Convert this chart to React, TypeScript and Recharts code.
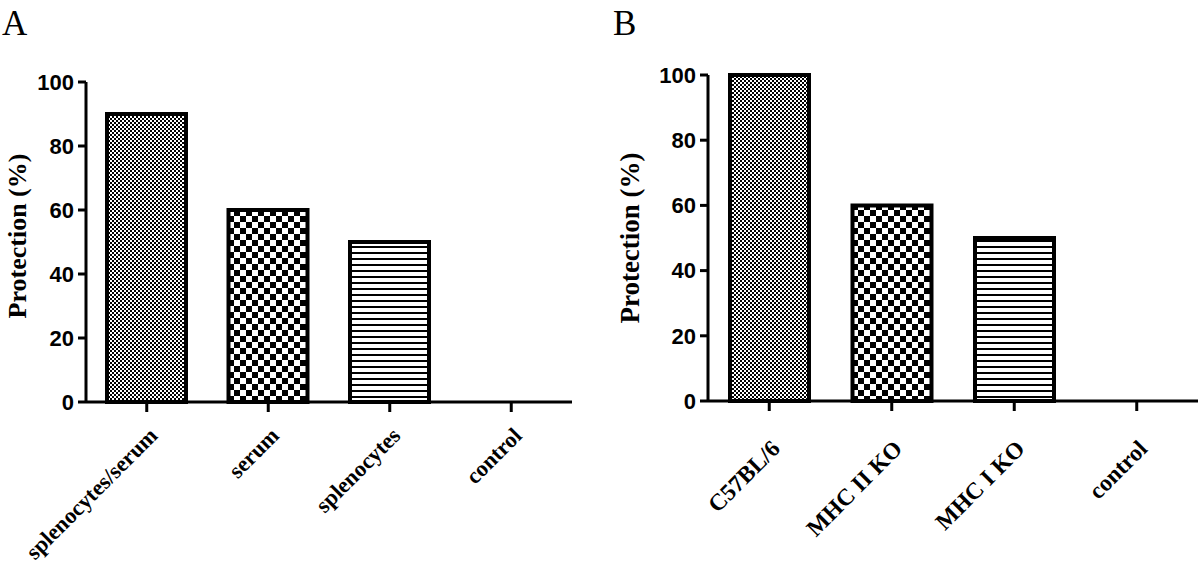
import { Bar, BarChart, Cell, Label, XAxis, YAxis } from "recharts"

const groupsA = ['splenocytes/serum', 'serum', 'splenocytes', 'control']
const protectionA = [90, 60, 50, 0]
const groupsB = ['C57BL/6', 'MHC II KO', 'MHC I KO', 'control']
const protectionB = [100, 60, 50, 0]
const yTicks = [0, 20, 40, 60, 80, 100]
const fills = ['url(#dots)', 'url(#checker)', 'url(#stripes)', '#fff']

const serif = '"Liberation Serif", "Times New Roman", serif'
const sans = '"Liberation Sans", Arial, sans-serif'

type PanelProps = {
    names: string[],
    values: number[],
    left: number,
    yWidth: number,
    top: number,
    bottom: number,
    right: number,
    tickFont: number,
    tickDrop: number,
    titleX: number,
    titleShift: number,
    titleFont: number,
}

const SlantTick = ({ x, y, payload, size, drop }: any) => (
    <g transform={`translate(${x},${y})`}>
        <text x={12} y={drop} transform={`rotate(-45 12 ${drop})`} textAnchor="end"
            fontFamily={serif} fontWeight="bold" fontSize={size} fill="#000">
            {payload.value}
        </text>
    </g>
)

const Panel = (p: PanelProps) => {
    const data = p.names.map((name, i) => ({ name, value: p.values[i] }))
    return <div style={{ position: 'absolute', left: p.left, top: 0 }}>
        <BarChart width={600} height={573} data={data}
            margin={{ top: p.top, right: p.right, bottom: 0, left: 0 }}>
            <XAxis dataKey="name" interval={0} height={573 - p.bottom} tickSize={10} tickMargin={2}
                axisLine={{ stroke: '#000', strokeWidth: 3 }}
                tickLine={{ stroke: '#000', strokeWidth: 3 }}
                tick={<SlantTick size={p.tickFont} drop={p.tickDrop} />} />
            <YAxis domain={[0, 100]} ticks={yTicks} interval={0} width={p.yWidth} tickSize={8} tickMargin={4}
                axisLine={{ stroke: '#000', strokeWidth: 3 }}
                tickLine={{ stroke: '#000', strokeWidth: 3 }}
                tick={{ fill: '#000', fontSize: 22, fontWeight: 'bold', fontFamily: sans }}>
                <Label content={(lp: any) => {
                    const vb = lp.viewBox || { y: p.top, height: p.bottom - p.top }
                    const cy = vb.y + vb.height / 2 + p.titleShift
                    return <text x={p.titleX} y={cy} transform={`rotate(-90 ${p.titleX} ${cy})`}
                        textAnchor="middle" dominantBaseline="central"
                        fontFamily={serif} fontWeight="bold" fontSize={p.titleFont} fill="#000">
                        Protection (%)
                    </text>
                }} />
            </YAxis>
            <Bar dataKey="value" barSize={79} stroke="#000" strokeWidth={4} isAnimationActive={false}>
                {data.map((d, i) => <Cell key={d.name} fill={fills[i]} />)}
            </Bar>
        </BarChart>
    </div>
}

export default function App() {
    return <div style={{ position: 'absolute', left: 0, top: 0, width: 1200, height: 573, background: '#fff' }}>
        <svg width={1200} height={573} style={{ position: 'absolute', left: 0, top: 0 }}>
            <defs>
                <pattern id="dots" width={4} height={4} patternUnits="userSpaceOnUse">
                    <rect width={4} height={4} fill="#fff" />
                    <rect x={0} y={0} width={2} height={2} fill="#000" />
                    <rect x={2} y={2} width={2} height={2} fill="#000" />
                </pattern>
                <pattern id="checker" width={12} height={12} patternUnits="userSpaceOnUse">
                    <rect width={12} height={12} fill="#fff" />
                    <rect x={0} y={0} width={6} height={6} fill="#000" />
                    <rect x={6} y={6} width={6} height={6} fill="#000" />
                </pattern>
                <pattern id="stripes" width={8} height={6} patternUnits="userSpaceOnUse">
                    <rect width={8} height={6} fill="#fff" />
                    <rect x={0} y={0} width={8} height={2} fill="#000" />
                </pattern>
            </defs>
            <text x={2} y={35} fontFamily={serif} fontSize={35} fill="#000">A</text>
            <text x={613} y={35} fontFamily={serif} fontSize={35} fill="#000">B</text>
        </svg>
        <Panel names={groupsA} values={protectionA} left={0} yWidth={86} top={82} bottom={402} right={28}
            tickFont={22.5} tickDrop={23} titleX={17} titleShift={-6} titleFont={26} />
        <Panel names={groupsB} values={protectionB} left={600} yWidth={108} top={75} bottom={401} right={2}
            tickFont={23.5} tickDrop={37} titleX={30} titleShift={0} titleFont={27} />
    </div>
}
